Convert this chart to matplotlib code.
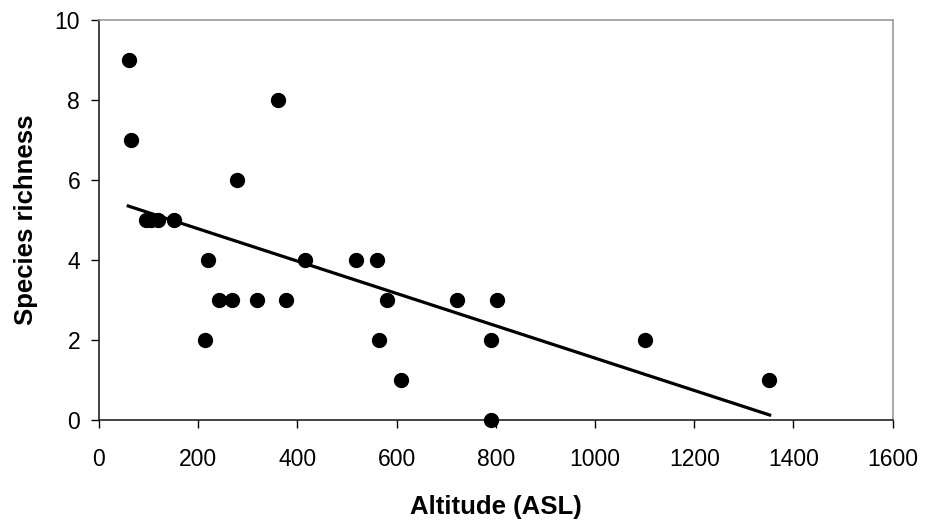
import matplotlib.pyplot as plt

plt.rcParams['font.family'] = ['Liberation Sans', 'DejaVu Sans']

# altitude (m ASL) and species richness
altitude = [60, 65, 95, 105, 120, 152, 214, 220, 242, 269, 278, 318, 360,
            378, 415, 519, 560, 564, 580, 608, 721, 790, 790, 802, 1101, 1351]
richness = [9, 7, 5, 5, 5, 5, 2, 4, 3, 3, 6, 3, 8,
            3, 4, 4, 4, 2, 3, 1, 3, 2, 0, 3, 2, 1]

# linear trend line end points, as drawn in the chart
trend_x = [59, 1352]
trend_y = [5.35, 0.13]

fig = plt.figure(figsize=(9.25, 5.22), dpi=100)
ax = fig.add_axes([0.107, 0.195, 0.858, 0.767])

ax.scatter(altitude, richness, s=100, color='black', zorder=3, clip_on=False)
ax.plot(trend_x, trend_y, color='black', lw=2.3, zorder=2)

ax.set_xlim(0, 1600)
ax.set_ylim(0, 10)
ax.set_xticks(range(0, 1601, 200))
ax.set_yticks(range(0, 11, 2))
ax.tick_params(labelsize=16.5, length=6, width=1, direction='out')
ax.tick_params(axis='x', pad=14)
ax.tick_params(axis='y', pad=7.5)

for side in ['left', 'bottom']:
    ax.spines[side].set_color('#222222')
    ax.spines[side].set_linewidth(1.2)
for side in ['top', 'right']:
    ax.spines[side].set_color('#999999')
    ax.spines[side].set_linewidth(1.2)

ax.set_xlabel('Altitude (ASL)', fontsize=18.5, fontweight='bold')
ax.set_ylabel('Species richness', fontsize=18.5, fontweight='bold')
ax.xaxis.set_label_coords(0.5, -0.188)
ax.yaxis.set_label_coords(-0.077, 0.5)

fig.savefig('out.png', dpi=100)
